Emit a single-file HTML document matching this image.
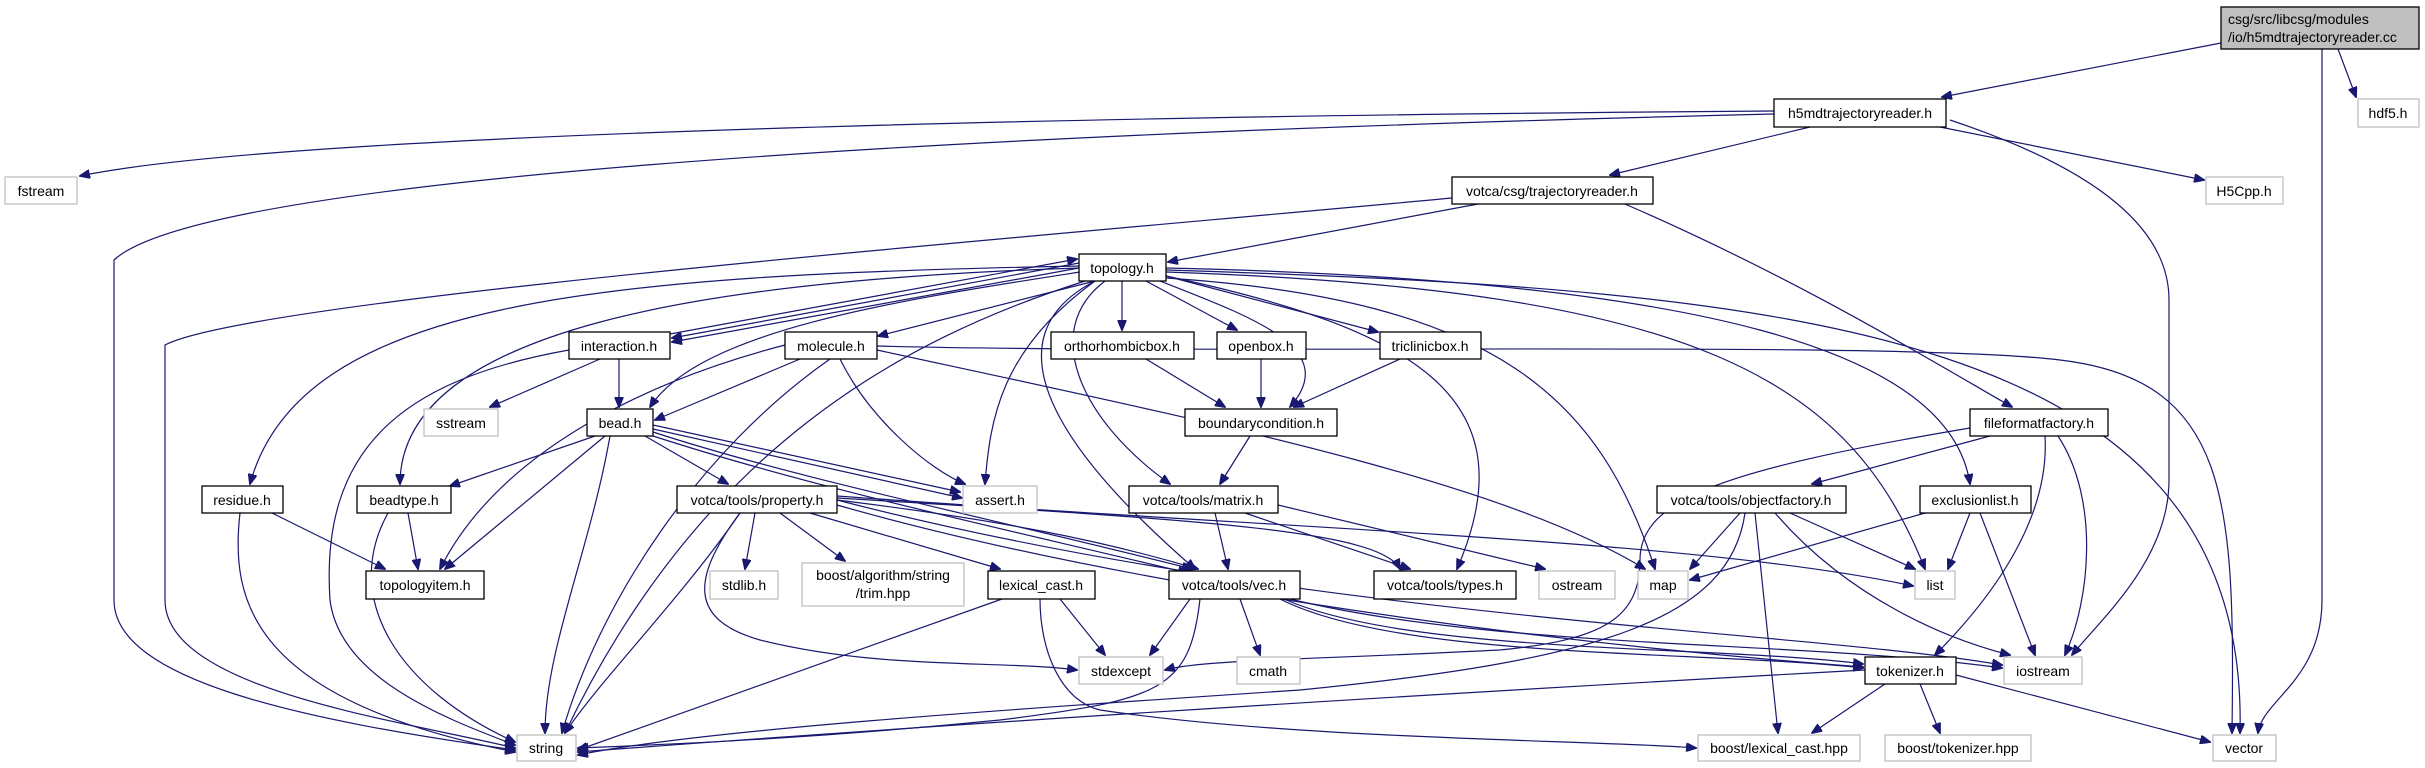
<!DOCTYPE html>
<html><head><meta charset="utf-8"><style>
html,body{margin:0;padding:0;background:#fff;}
svg{display:block;}
text{font-family:"Liberation Sans","DejaVu Sans",sans-serif;font-size:14px;fill:#000;}
.e{fill:none;stroke:#191970;stroke-width:1.2;marker-end:url(#a);}
.n{fill:#fff;stroke:#000;stroke-width:1.3;}
.x{fill:#fff;stroke:#bfbfbf;stroke-width:1.3;}
</style></head><body>
<svg width="2425" height="768" viewBox="0 0 2425 768" xmlns="http://www.w3.org/2000/svg">
<defs><marker id="a" markerWidth="11" markerHeight="9" refX="10" refY="4.5" orient="auto" markerUnits="userSpaceOnUse"><path d="M0,0L11,4.5L0,9z" fill="#191970" stroke="#191970"/></marker></defs>
<g>
<path class="e" d="M2221,43 L1942,97"/>
<path class="e" d="M2338,49 L2356,97"/>
<path class="e" d="M2322,49 L2322,600 C2322,680 2262,700 2258,733"/>
<path class="e" d="M1774,111 C1200,115 300,130 80,176"/>
<path class="e" d="M1774,114 C900,135 200,180 114,260 L114,600 C114,680 300,720 515,750"/>
<path class="e" d="M1810,127 L1610,175"/>
<path class="e" d="M1940,127 L2204,180"/>
<path class="e" d="M1950,120 C2100,170 2169,230 2169,300 L2169,480 C2169,560 2100,620 2072,655"/>
<path class="e" d="M1478,204 L1168,262"/>
<path class="e" d="M1452,198 C1000,240 250,300 165,345 L165,600 C165,690 400,720 515,748"/>
<path class="e" d="M1625,204 C1800,280 1930,360 2012,407"/>
<path class="e" d="M1079,263 L672,338"/>
<path class="e" d="M1079,268 L672,342"/>
<path class="e" d="M670,334 L1077,259"/>
<path class="e" d="M1095,281 L878,336"/>
<path class="e" d="M1122,281 L1122,330"/>
<path class="e" d="M1146,281 L1237,330"/>
<path class="e" d="M1166,276 L1378,332"/>
<path class="e" d="M1160,281 C1260,320 1340,350 1290,407"/>
<path class="e" d="M1146,359 L1225,407"/>
<path class="e" d="M1261,359 L1261,407"/>
<path class="e" d="M1400,359 L1294,407"/>
<path class="e" d="M1080,272 C900,300 700,330 650,407"/>
<path class="e" d="M1080,268 C700,280 400,330 400,484"/>
<path class="e" d="M1080,266 C600,275 300,300 250,484"/>
<path class="e" d="M1095,281 C1000,350 990,420 985,484"/>
<path class="e" d="M1095,281 C1020,320 1000,400 1195,569"/>
<path class="e" d="M1105,281 C1040,330 1080,420 1170,484"/>
<path class="e" d="M1166,276 C1420,330 1530,400 1457,569"/>
<path class="e" d="M1166,278 C1500,300 1600,400 1655,569"/>
<path class="e" d="M1166,272 C1700,290 1850,380 1925,569"/>
<path class="e" d="M1166,270 C1800,290 2250,330 2240,733"/>
<path class="e" d="M1166,268 C1700,280 1950,350 1970,484"/>
<path class="e" d="M1085,281 C900,340 700,450 565,733"/>
<path class="e" d="M600,359 L490,407"/>
<path class="e" d="M619,359 L619,407"/>
<path class="e" d="M569,350 C400,380 320,450 330,600 C340,680 450,720 515,745"/>
<path class="e" d="M800,359 L655,420"/>
<path class="e" d="M785,345 C650,380 500,450 440,569"/>
<path class="e" d="M830,359 C700,450 600,600 562,733"/>
<path class="e" d="M840,359 C870,420 930,470 965,484"/>
<path class="e" d="M877,350 C1200,420 1500,480 1645,569"/>
<path class="e" d="M877,346 C1200,355 1900,340 2060,360 C2230,380 2235,500 2232,733"/>
<path class="e" d="M595,436 L450,486"/>
<path class="e" d="M605,436 L445,569"/>
<path class="e" d="M610,436 C590,550 545,650 545,733"/>
<path class="e" d="M645,436 L728,484"/>
<path class="e" d="M653,425 L960,492"/>
<path class="e" d="M653,429 L962,498"/>
<path class="e" d="M653,432 C800,480 1000,520 1192,569"/>
<path class="e" d="M653,436 C820,490 1010,530 1188,573"/>
<path class="e" d="M272,513 L385,569"/>
<path class="e" d="M240,513 C230,600 250,700 515,752"/>
<path class="e" d="M408,513 L418,569"/>
<path class="e" d="M388,513 C340,600 400,690 515,742"/>
<path class="e" d="M740,513 C680,600 600,680 565,733"/>
<path class="e" d="M755,513 L745,569"/>
<path class="e" d="M780,513 L845,561"/>
<path class="e" d="M810,513 L1000,569"/>
<path class="e" d="M837,500 C1000,520 1100,540 1198,569"/>
<path class="e" d="M740,513 C690,580 690,620 760,640 C880,670 1000,660 1077,670"/>
<path class="e" d="M837,496 C1300,530 1700,540 1913,586"/>
<path class="e" d="M837,505 C1100,580 1500,640 1863,667"/>
<path class="e" d="M837,500 C1300,620 1800,630 2002,665"/>
<path class="e" d="M837,498 C1200,520 1380,530 1400,569"/>
<path class="e" d="M1215,513 L1228,569"/>
<path class="e" d="M1245,513 L1410,569"/>
<path class="e" d="M1278,505 L1545,569"/>
<path class="e" d="M1250,436 L1220,484"/>
<path class="e" d="M1060,599 L1105,655"/>
<path class="e" d="M1002,599 L578,750"/>
<path class="e" d="M1040,599 C1040,650 1060,700 1100,710 C1300,740 1600,740 1696,748"/>
<path class="e" d="M1190,599 L1150,655"/>
<path class="e" d="M1200,599 C1190,690 1160,700 1000,720 C800,740 650,745 578,748"/>
<path class="e" d="M1240,599 L1260,655"/>
<path class="e" d="M1280,599 C1400,660 1700,650 1863,668"/>
<path class="e" d="M1284,599 C1410,655 1720,645 1863,664"/>
<path class="e" d="M1290,599 C1500,650 1800,640 2002,668"/>
<path class="e" d="M1865,670 C1500,690 1000,720 578,752"/>
<path class="e" d="M1885,684 L1812,733"/>
<path class="e" d="M1920,684 L1940,733"/>
<path class="e" d="M1956,675 L2210,742"/>
<path class="e" d="M1990,436 L1812,484"/>
<path class="e" d="M2045,436 C2050,520 1990,600 1935,655"/>
<path class="e" d="M2058,436 C2100,500 2090,600 2065,655"/>
<path class="e" d="M1970,428 C1720,470 1640,500 1640,560 C1640,620 1600,640 1500,650 C1300,660 1200,660 1165,670"/>
<path class="e" d="M1745,513 C1730,620 1600,660 1300,690 C1000,710 700,730 578,755"/>
<path class="e" d="M1740,513 L1690,569"/>
<path class="e" d="M1790,513 L1915,569"/>
<path class="e" d="M1775,513 C1850,600 1950,640 2010,655"/>
<path class="e" d="M1755,513 L1778,733"/>
<path class="e" d="M1925,513 L1690,580"/>
<path class="e" d="M1970,513 L1948,569"/>
<path class="e" d="M1980,513 L2035,655"/>
</g>
<g text-anchor="middle">
<rect x="2221" y="7" width="198" height="42" fill="#bfbfbf" stroke="#000" stroke-width="1.3"/>
<text x="2228" y="24" text-anchor="start">csg/src/libcsg/modules</text>
<text x="2228" y="42" text-anchor="start">/io/h5mdtrajectoryreader.cc</text>
<rect class="n" x="1774" y="99" width="172" height="28"/><text x="1860" y="118">h5mdtrajectoryreader.h</text>
<rect class="x" x="2358" y="99" width="61" height="28"/><text x="2388" y="118">hdf5.h</text>
<rect class="n" x="1452" y="177" width="201" height="27"/><text x="1552" y="196">votca/csg/trajectoryreader.h</text>
<rect class="x" x="2206" y="177" width="77" height="27"/><text x="2244" y="196">H5Cpp.h</text>
<rect class="x" x="5" y="177" width="72" height="27"/><text x="41" y="196">fstream</text>
<rect class="n" x="1079" y="254" width="87" height="27"/><text x="1122" y="273">topology.h</text>
<rect class="n" x="569" y="332" width="101" height="27"/><text x="619" y="351">interaction.h</text>
<rect class="n" x="785" y="332" width="92" height="27"/><text x="831" y="351">molecule.h</text>
<rect class="n" x="1051" y="332" width="143" height="27"/><text x="1122" y="351">orthorhombicbox.h</text>
<rect class="n" x="1217" y="332" width="89" height="27"/><text x="1261" y="351">openbox.h</text>
<rect class="n" x="1380" y="332" width="101" height="27"/><text x="1430" y="351">triclinicbox.h</text>
<rect class="x" x="424" y="409" width="74" height="27"/><text x="461" y="428">sstream</text>
<rect class="n" x="587" y="409" width="66" height="27"/><text x="620" y="428">bead.h</text>
<rect class="n" x="1185" y="409" width="152" height="27"/><text x="1261" y="428">boundarycondition.h</text>
<rect class="n" x="1970" y="409" width="138" height="27"/><text x="2039" y="428">fileformatfactory.h</text>
<rect class="n" x="202" y="486" width="81" height="27"/><text x="242" y="505">residue.h</text>
<rect class="n" x="357" y="486" width="94" height="27"/><text x="404" y="505">beadtype.h</text>
<rect class="n" x="677" y="486" width="160" height="27"/><text x="757" y="505">votca/tools/property.h</text>
<rect class="x" x="963" y="486" width="74" height="27"/><text x="1000" y="505">assert.h</text>
<rect class="n" x="1129" y="486" width="149" height="27"/><text x="1203" y="505">votca/tools/matrix.h</text>
<rect class="n" x="1657" y="486" width="189" height="27"/><text x="1751" y="505">votca/tools/objectfactory.h</text>
<rect class="n" x="1920" y="486" width="111" height="27"/><text x="1975" y="505">exclusionlist.h</text>
<rect class="n" x="366" y="571" width="118" height="28"/><text x="425" y="590">topologyitem.h</text>
<rect class="x" x="710" y="571" width="68" height="28"/><text x="744" y="590">stdlib.h</text>
<rect class="x" x="802" y="563" width="162" height="43"/><text x="883" y="580">boost/algorithm/string</text><text x="883" y="598">/trim.hpp</text>
<rect class="n" x="988" y="571" width="107" height="28"/><text x="1041" y="590">lexical_cast.h</text>
<rect class="n" x="1169" y="571" width="131" height="28"/><text x="1234" y="590">votca/tools/vec.h</text>
<rect class="n" x="1374" y="571" width="142" height="28"/><text x="1445" y="590">votca/tools/types.h</text>
<rect class="x" x="1539" y="571" width="76" height="28"/><text x="1577" y="590">ostream</text>
<rect class="x" x="1638" y="571" width="50" height="28"/><text x="1663" y="590">map</text>
<rect class="x" x="1915" y="571" width="40" height="28"/><text x="1935" y="590">list</text>
<rect class="x" x="1079" y="657" width="84" height="27"/><text x="1121" y="676">stdexcept</text>
<rect class="x" x="1237" y="657" width="63" height="27"/><text x="1268" y="676">cmath</text>
<rect class="n" x="1865" y="657" width="91" height="27"/><text x="1910" y="676">tokenizer.h</text>
<rect class="x" x="2004" y="657" width="78" height="27"/><text x="2043" y="676">iostream</text>
<rect class="x" x="517" y="735" width="59" height="26"/><text x="546" y="753">string</text>
<rect class="x" x="1698" y="735" width="162" height="26"/><text x="1779" y="753">boost/lexical_cast.hpp</text>
<rect class="x" x="1885" y="735" width="146" height="26"/><text x="1958" y="753">boost/tokenizer.hpp</text>
<rect class="x" x="2213" y="735" width="63" height="26"/><text x="2244" y="753">vector</text>
</g>
</svg>
</body></html>
